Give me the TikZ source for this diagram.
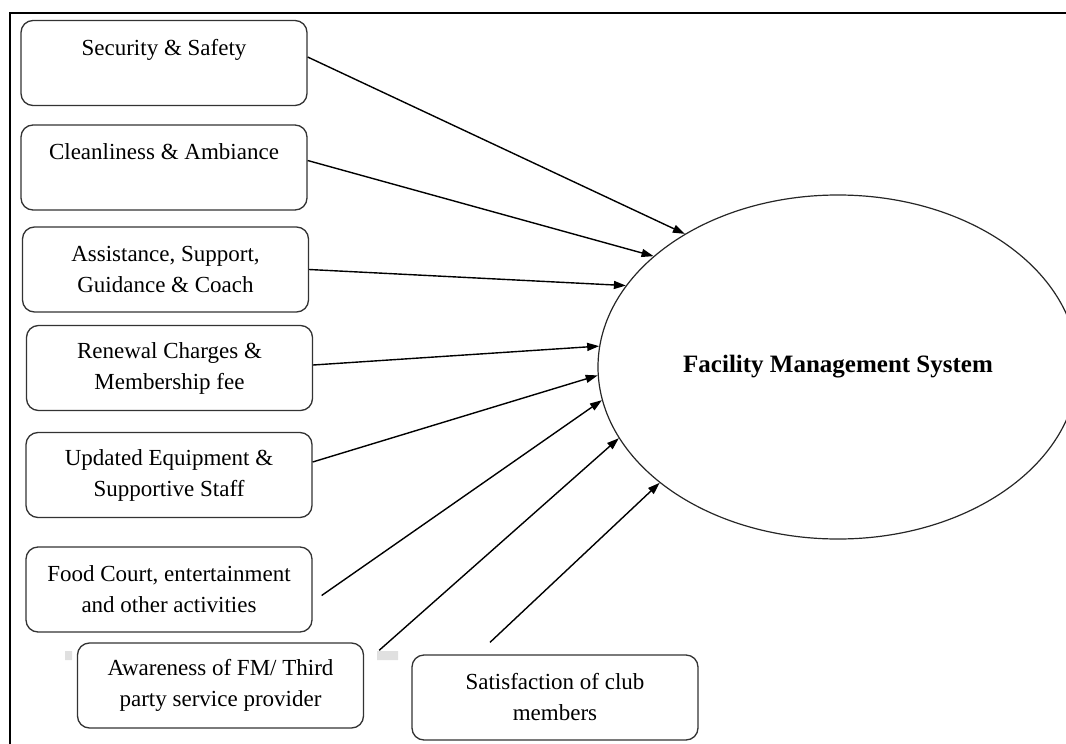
\documentclass[tikz,border=0pt]{standalone}
\usepackage{fontspec}
\setmainfont{Liberation Serif}
\usepackage{tikz}
\usetikzlibrary{arrows.meta}
\usetikzlibrary{shapes.geometric}

\begin{document}
\begin{tikzpicture}[x=1pt,y=-1pt,->,>={Triangle[length=12pt,width=8pt]},
	line width=1.4pt,font=\fontsize{23}{31}\selectfont]
	\tikzstyle{factor}=[draw=black!80,line width=1.3pt,rounded corners=12pt,
		minimum width=286pt,minimum height=85pt,align=center,inner sep=2pt]
	\tikzstyle{system}=[draw=black!85,line width=1.2pt,ellipse,
		minimum width=480pt,minimum height=344pt,font=\fontsize{25}{30}\selectfont\bfseries]

	\clip (0,0) rectangle (1066,744);
	\useasboundingbox (0,0) rectangle (1066,744);
	\draw[-,line width=1.5pt] (1066,13) -- (10,13) -- (10,744);
	\fill[black!12] (65,651) rectangle (72,660) (377,651) rectangle (398,660);

	\node[factor] (sec)    at (164,63)    {Security \& Safety\\ \mbox{}};
	\node[factor] (clean)  at (164,167.5) {Cleanliness \& Ambiance\\ \mbox{}};
	\node[factor] (assist) at (165.5,269.5) {Assistance, Support,\\ Guidance \& Coach};
	\node[factor] (renew)  at (169.5,368) {Renewal Charges \&\\ Membership fee};
	\node[factor] (equip)  at (169,475)   {Updated Equipment \&\\ Supportive Staff};
	\node[factor] (food)   at (169,589.5) {Food Court, entertainment\\ and other activities};
	\node[factor] (aware)  at (220.5,685.5) {Awareness of FM/ Third\\ party service provider};
	\node[factor] (satis)  at (555,697.5) {Satisfaction of club\\ members};
	\node[system] (fms)    at (838,367)   {Facility Management System};

	\path
		([yshift=6pt]sec.east)   edge (fms.139)
		([yshift=7pt]clean.east) edge (fms.149)
		(assist.east)            edge (fms.159)
		([yshift=3pt]renew.east) edge (fms.175)
		([yshift=13pt]equip.east) edge (fms.182)
		([shift={(9pt,-6pt)}]food.east) edge (fms.188)
		([shift={(15pt,-8pt)}]aware.north east) edge (fms.198)
		([shift={(-65pt,12pt)}]satis.north) edge (fms.213)
	;
\end{tikzpicture}
\end{document}
